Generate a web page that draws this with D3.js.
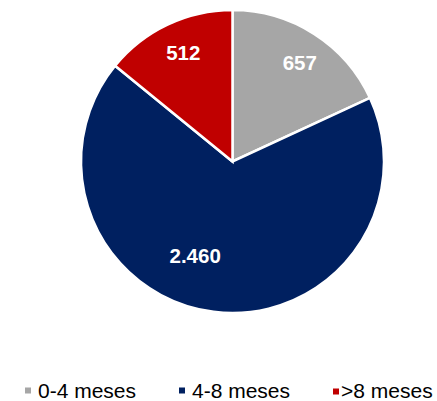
<!DOCTYPE html>
<html>
<head>
<meta charset="utf-8">
<script src="https://cdn.jsdelivr.net/npm/d3@7"></script>
<style>
  html, body { margin: 0; padding: 0; background: #fff; }
  svg { display: block; }
</style>
</head>
<body>
<svg id="chart" width="437" height="401"></svg>
<script>
const categories = ["0-4 meses", "4-8 meses", ">8 meses"];
const values = [657, 2460, 512];
const valueLabels = ["657", "2.460", "512"];
const colors = ["#A6A6A6", "#002060", "#C00000"];

const svg = d3.select("#chart");
const cx = 232.5, cy = 161.5, r = 151.5;

const pie = d3.pie().sort(null).value(d => d)(values);
const arc = d3.arc().innerRadius(0).outerRadius(r);

const g = svg.append("g").attr("transform", `translate(${cx},${cy})`);

g.selectAll("path.slice")
  .data(pie)
  .enter().append("path")
  .attr("class", "slice")
  .attr("d", arc)
  .attr("fill", (d, i) => colors[i])
  .attr("stroke", "#fff")
  .attr("stroke-width", 2.5)
  .attr("stroke-linejoin", "miter");

// label placement (style): radial fraction & angle shift per slice
const labelFrac = [0.79, 0.67, 0.79];
const labelShift = [1.6, 14.4, 1.1]; // degrees
g.selectAll("text.val")
  .data(pie)
  .enter().append("text")
  .attr("class", "val")
  .attr("transform", (d, i) => {
    const a = (d.startAngle + d.endAngle) / 2 + labelShift[i] * Math.PI / 180;
    const rr = r * labelFrac[i];
    return `translate(${rr * Math.sin(a)},${-rr * Math.cos(a)})`;
  })
  .attr("text-anchor", "middle")
  .attr("dy", "0.36em")
  .attr("fill", "#fff")
  .style("font-family", "'Liberation Sans', Arial, sans-serif")
  .style("font-weight", "bold")
  .style("font-size", "20.5px")
  .text((d, i) => valueLabels[i]);

// legend
const legX = [25, 179, 333];
const legDy = [0, 0, 1];
const txtDy = [0, 0, 0];
const txtGap = [13, 13, 8];
const leg = svg.append("g");
categories.forEach((c, i) => {
  leg.append("rect")
    .attr("x", legX[i]).attr("y", 387.5 + legDy[i])
    .attr("width", 6).attr("height", 6)
    .attr("fill", colors[i]);
  leg.append("text")
    .attr("x", legX[i] + txtGap[i]).attr("y", 398 + txtDy[i])
    .attr("fill", "#000")
    .style("font-family", "'Liberation Sans', Arial, sans-serif")
    .style("font-size", "21px")
    .text(c);
});
</script>
</body>
</html>
